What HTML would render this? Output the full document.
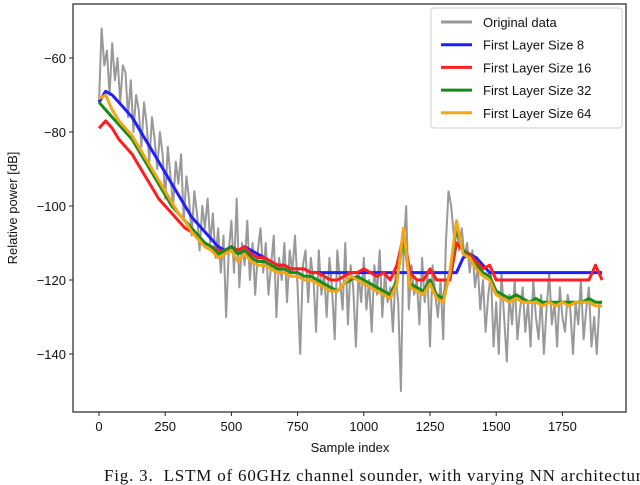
<!DOCTYPE html>
<html><head><meta charset="utf-8"><style>
body{margin:0;background:#fff;width:640px;height:485px;overflow:hidden}
svg{display:block;font-family:"Liberation Sans",sans-serif}
</style></head><body>
<svg id="chart" width="640" height="485" viewBox="0 0 640 485">
<defs><clipPath id="clip"><rect x="73" y="4" width="553" height="408"/></clipPath></defs>
<g id="series" clip-path="url(#clip)"></g>
<rect x="73" y="4" width="553" height="408" fill="none" stroke="#222" stroke-width="1.2"/>
<g id="axes"></g>
<text x="350" y="452" font-size="13" text-anchor="middle" fill="#111">Sample index</text>
<text transform="translate(17,208) rotate(-90)" font-size="13" text-anchor="middle" fill="#111">Relative power [dB]</text>
<g id="legend">
<rect x="431" y="8" width="191" height="120" rx="3" fill="#fff" fill-opacity="0.85" stroke="#ccc"/>
</g>
<text x="104" y="481" font-family="Liberation Serif,serif" font-size="17" letter-spacing="0.8" fill="#111" xml:space="preserve">Fig. 3.  LSTM of 60GHz channel sounder, with varying NN architecture</text>
</svg>
<script>
const grayValues=[-72,-52,-62,-58,-70,-56,-66,-60,-72,-62,
-64,-76,-66,-80,-70,-74,-84,-72,-78,-88,
-76,-82,-90,-80,-86,-98,-84,-92,-100,-88,
-94,-86,-104,-92,-98,-108,-96,-102,-112,-100,
-106,-98,-110,-102,-114,-106,-118,-108,-130,-112,
-104,-118,-98,-122,-110,-116,-104,-120,-110,-124,
-112,-106,-118,-110,-124,-116,-108,-130,-114,-120,
-110,-126,-112,-118,-108,-122,-140,-116,-112,-126,
-114,-120,-134,-112,-124,-118,-130,-114,-122,-136,
-112,-120,-128,-110,-132,-116,-122,-138,-118,-126,
-114,-128,-120,-134,-116,-124,-112,-130,-118,-126,
-122,-134,-118,-126,-150,-112,-100,-128,-116,-124,
-120,-132,-114,-126,-118,-138,-116,-124,-130,-120,
-136,-110,-96,-100,-108,-104,-112,-106,-114,-110,
-118,-112,-122,-116,-128,-120,-134,-124,-118,-138,
-126,-140,-118,-130,-142,-124,-132,-120,-136,-128,
-122,-134,-126,-138,-120,-130,-136,-124,-140,-128,
-118,-132,-126,-138,-122,-130,-134,-124,-128,-140,
-126,-132,-120,-136,-128,-122,-138,-130,-140,-126];
const grayStep=10;
const smoothStep=25;
const blueValues=[-72,-69,-70,-72,-74,-76,-79,-82,-85,-88,-91,-94,-97,-100,-103,-105,-107,-109,-111,-112,-111,-112,-111,-112,-113,-114,-115,-116,-116,-117,-117,-117,-118,
-118,-118,-118,-118,-118,-118,-118,-118,-118,-118,-118,-118,-118,-118,-118,-118,-118,-118,-118,-118,-118,-118,
-114,-113,-114,-116,-118,
-118,-118,-118,-118,-118,-118,-118,-118,-118,-118,-118,-118,-118,-118,-118,-118,-118];
const redValues=[-79,-77,-79,-82,-84,-86,-89,-92,-95,-98,-100,-102,-104,-106,-107,-109,-110,-111,-112,-112,-111,-112,-111,-113,-114,-114,-115,-116,-116,-117,-117,-117,-118,
-118,-119,-120,-120,-119,-118,-118,-117,-118,-119,-118,-120,
-116,-108,-118,-120,-120,-117,-120,-120,-120,
-110,-112,-113,-115,-117,-116,
-120,-120,-120,-120,-120,-120,-120,-120,-120,-120,-120,-120,-120,-120,-120,-116,-120];
const greenValues=[-72,-74,-76,-78,-80,-82,-85,-88,-91,-94,-97,-100,-102,-104,-106,-108,-110,-111,-113,-112,-111,-113,-112,-114,-115,-115,-116,-117,-117,-118,-118,-119,-119,
-120,-121,-122,-123,-121,-120,-119,-120,-121,-122,-123,-124,
-120,-108,-121,-122,-123,-120,-124,-125,-118,
-106,-112,-114,-116,-118,-119,
-123,-124,-125,-124,-125,-126,-125,-126,-126,-126,-126,-126,-126,-126,-125,-126,-126];
const orangeValues=[-71,-70,-74,-77,-79,-81,-84,-87,-90,-93,-96,-99,-102,-104,-107,-109,-111,-112,-114,-113,-112,-115,-113,-115,-116,-116,-117,-118,-118,-119,-119,-120,-120,
-121,-122,-123,-123,-121,-119,-120,-121,-122,-123,-124,-125,
-121,-106,-122,-123,-124,-121,-125,-126,-118,
-104,-113,-114,-117,-119,-120,
-124,-125,-126,-125,-126,-126,-126,-127,-126,-127,-126,-127,-126,-126,-126,-127,-127];
const xTicks=[0,250,500,750,1000,1250,1500,1750];
const yTicks=[-60,-80,-100,-120,-140];
const legendLabels=["Original data","First Layer Size 8","First Layer Size 16","First Layer Size 32","First Layer Size 64"];

const NS="http://www.w3.org/2000/svg";
const xScale=v=>99+v*0.2648;
const yScale=v=>58+(-60-v)*3.7;
function mk(tag,attrs,parent){const e=document.createElementNS(NS,tag);for(const k in attrs)e.setAttribute(k,attrs[k]);parent.appendChild(e);return e;}
const series=document.getElementById('series'), axes=document.getElementById('axes'), legend=document.getElementById('legend');
function drawLine(vals,step,color,w,name){
  const d=vals.map((v,i)=>(i?'L':'M')+xScale(i*step).toFixed(1)+','+yScale(v).toFixed(1)).join('');
  const p=mk('path',{d:d,fill:'none',stroke:color,'stroke-width':w,'stroke-linejoin':'round'},series);
  
  
}
drawLine(grayValues,grayStep,'#999',2,'original-data-line');
drawLine(blueValues,smoothStep,'#1f1fff',3,'layer-size-8-line');
drawLine(redValues,smoothStep,'#ff1f1f',3,'layer-size-16-line');
drawLine(greenValues,smoothStep,'#1a8a1a',3,'layer-size-32-line');
drawLine(orangeValues,smoothStep,'#f5a516',3,'layer-size-64-line');
xTicks.forEach(t=>{
  const x=xScale(t);
  const l=mk('line',{x1:x,x2:x,y1:412,y2:416,stroke:'#222'},axes);
  
  
  const tx=mk('text',{x:x,y:431,'font-size':13,'text-anchor':'middle',fill:'#111'},axes);
  tx.textContent=t;
  
  
});
yTicks.forEach(t=>{
  const y=yScale(t);
  const l=mk('line',{x1:69,x2:73,y1:y,y2:y,stroke:'#222'},axes);
  
  
  const tx=mk('text',{x:66,y:y+5,'font-size':13,'text-anchor':'end',fill:'#111'},axes);
  tx.textContent='\u2212'+Math.abs(t);
  
  
});
const legendColors=['#999','#1f1fff','#ff1f1f','#1a8a1a','#f5a516'];
legendLabels.forEach((lab,i)=>{
  const y=22+i*22.7;
  const l=mk('line',{x1:441,x2:472,y1:y,y2:y,stroke:legendColors[i],'stroke-width':3},legend);
  
  
  const tx=mk('text',{x:483,y:y+5,'font-size':13,fill:'#111'},legend);
  tx.textContent=lab;
  
  
});
</script>
</body></html>
